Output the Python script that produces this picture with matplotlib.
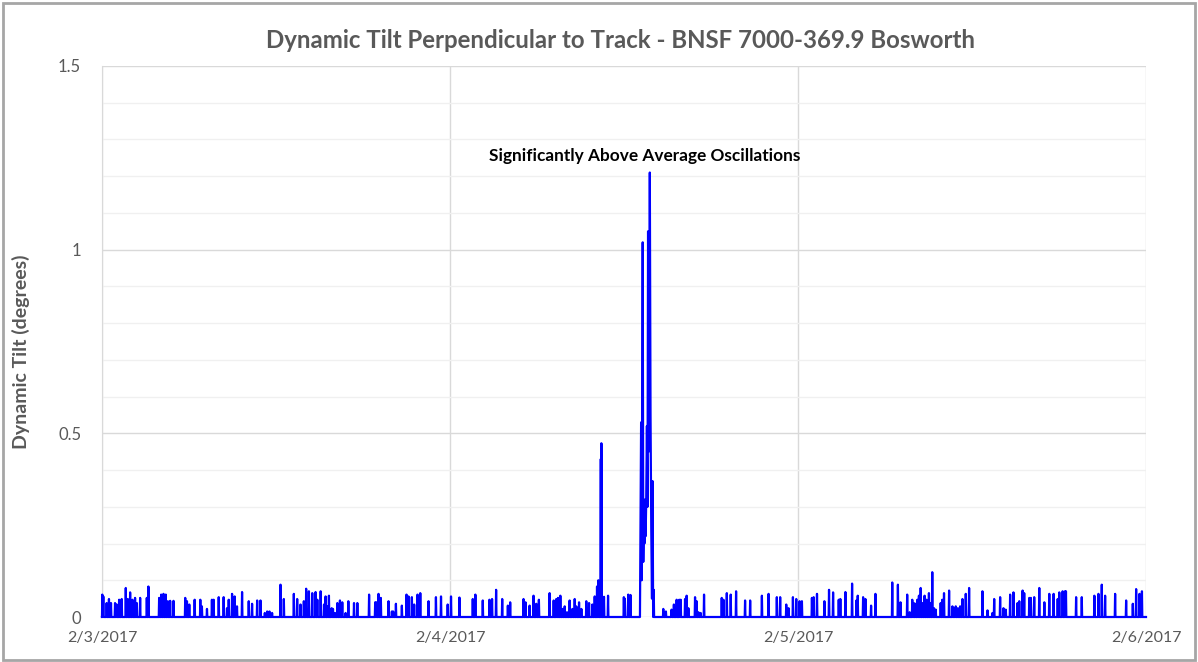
import numpy as np
import pandas as pd
import matplotlib
matplotlib.use('Agg')
import matplotlib.pyplot as plt
from matplotlib.patches import Rectangle

plt.rcParams['font.family'] = ['Lato', 'DejaVu Sans']

# spike times (hours after 2/3/2017 00:00) and peak tilt (degrees)
spike_hours = [
    0.02, 0.09, 0.32, 0.48, 0.62, 0.90, 1.01, 1.18, 1.36, 1.64, 1.78, 1.94, 2.10, 2.28, 2.40, 2.63,
    3.09, 3.20, 3.94, 4.08, 4.24, 4.40, 4.54, 4.70, 4.93, 5.74, 5.86, 6.02, 6.39, 6.78, 6.89, 7.24,
    7.58, 7.70, 8.05, 8.39, 8.62, 8.74, 8.97, 9.15, 9.31, 9.66, 10.12, 10.35, 10.70, 10.93, 11.23,
    11.39, 11.55, 11.73, 12.31, 12.54, 13.23, 13.46, 13.69, 13.92, 14.08, 14.27, 14.50, 14.73, 14.85,
    15.08, 15.31, 15.42, 15.54, 15.65, 15.84, 15.93, 16.07, 16.23, 16.41, 16.57, 16.80, 16.99, 17.38,
    17.61, 18.42, 18.84, 18.93, 19.07, 19.23, 19.76, 19.99, 20.08, 20.27, 20.68, 21.00, 21.14, 21.37,
    21.53, 21.76, 21.95, 22.52, 23.03, 23.38, 23.84, 24.07, 24.65, 25.57, 25.75, 26.26, 26.72, 26.90,
    27.18, 27.60, 27.99, 28.15, 29.07, 29.21, 29.49, 29.76, 29.95, 30.13, 30.87, 31.15, 31.33, 31.45,
    31.61, 31.75, 31.91, 32.07, 32.25, 32.44, 32.60, 32.71, 32.90, 33.06, 33.40, 33.59, 33.82, 33.98,
    34.14, 34.23, 34.40, 34.44, 34.62, 34.90, 35.99, 36.06, 36.29, 36.45,
    38.05, 38.71, 38.89, 39.28, 39.44, 39.63, 39.81, 39.91, 40.21, 40.32, 40.44, 40.90, 41.01, 41.13,
    41.29, 41.52, 42.74, 42.86, 43.09, 43.36, 43.73, 44.35, 44.70, 45.51, 45.97, 46.54, 46.77, 47.19,
    47.35, 47.65, 47.88, 48.11, 48.27, 48.96, 49.08, 49.31, 49.82, 50.14, 50.42, 50.81, 50.92, 51.27,
    51.73, 52.03, 52.12, 52.49, 52.65, 53.04, 53.34, 54.50, 54.89, 55.07, 55.53, 55.70, 55.88, 55.99,
    56.11, 56.23, 56.34, 56.46, 56.58, 56.73, 56.87, 57.03, 57.14, 57.26, 57.38, 57.50, 57.84, 57.95,
    58.07, 58.42, 58.65, 58.76, 58.88, 59.03, 59.18, 59.34, 59.57, 59.80, 60.72, 61.07, 61.41, 61.53,
    61.94, 62.17, 62.33, 62.63, 62.86, 63.14, 63.26, 63.49, 63.60, 63.95, 64.06, 64.29, 64.64, 64.99,
    65.33, 65.63, 65.91, 66.02, 66.25, 66.41, 66.48, 67.18, 67.57, 68.44, 68.72, 68.95, 69.18, 69.87,
    70.63, 71.09, 71.32, 71.55, 71.72,
]
spike_peaks = [
    0.061, 0.056, 0.038, 0.049, 0.038, 0.038, 0.034, 0.047, 0.049, 0.079, 0.049, 0.067, 0.047, 0.052, 0.038, 0.052,
    0.052, 0.083, 0.052, 0.061, 0.063, 0.061, 0.043, 0.044, 0.044, 0.052, 0.043, 0.034, 0.047, 0.047, 0.029, 0.022,
    0.047, 0.047, 0.054, 0.054, 0.024, 0.047, 0.063, 0.056, 0.029, 0.068, 0.043, 0.036, 0.045, 0.045, 0.011,
    0.015, 0.015, 0.011, 0.088, 0.049, 0.063, 0.049, 0.034, 0.043, 0.077, 0.070, 0.065, 0.068, 0.047,
    0.070, 0.034, 0.056, 0.029, 0.058, 0.024, 0.022, 0.011, 0.038, 0.045, 0.040, 0.011, 0.043, 0.038,
    0.038, 0.061, 0.040, 0.040, 0.063, 0.052, 0.043, 0.015, 0.015, 0.036, 0.031, 0.061, 0.056, 0.054,
    0.034, 0.061, 0.065, 0.043, 0.054, 0.056, 0.034, 0.056, 0.053, 0.049, 0.061, 0.045, 0.047, 0.049,
    0.074, 0.049, 0.031, 0.040, 0.049, 0.040, 0.031, 0.058, 0.036, 0.047, 0.065, 0.045, 0.049, 0.052,
    0.058, 0.022, 0.029, 0.013, 0.045, 0.022, 0.049, 0.029, 0.040, 0.022, 0.043, 0.038, 0.034, 0.056,
    0.083, 0.100, 0.430, 0.473, 0.055, 0.058, 0.054, 0.050, 0.061, 0.060,
    0.074, 0.022, 0.015, 0.020, 0.034, 0.047, 0.047, 0.047, 0.049, 0.058, 0.024, 0.054, 0.043, 0.013,
    0.011, 0.061, 0.052, 0.047, 0.065, 0.061, 0.070, 0.045, 0.045, 0.058, 0.063, 0.054, 0.054, 0.034,
    0.024, 0.054, 0.049, 0.043, 0.043, 0.052, 0.054, 0.063, 0.043, 0.074, 0.067, 0.047, 0.049, 0.068,
    0.091, 0.045, 0.058, 0.054, 0.049, 0.031, 0.063, 0.094, 0.088, 0.040, 0.061, 0.013, 0.047, 0.038,
    0.036, 0.047, 0.058, 0.079, 0.038, 0.058, 0.047, 0.065, 0.038, 0.122, 0.024, 0.020, 0.038, 0.047,
    0.065, 0.072, 0.029, 0.024, 0.029, 0.024, 0.029, 0.049, 0.063, 0.079, 0.070, 0.018, 0.011, 0.049,
    0.054, 0.024, 0.020, 0.061, 0.067, 0.038, 0.043, 0.072, 0.065, 0.052, 0.052, 0.054, 0.079, 0.040,
    0.063, 0.063, 0.049, 0.067, 0.070, 0.070, 0.070, 0.054, 0.054, 0.058, 0.063, 0.088, 0.058, 0.063,
    0.045, 0.036, 0.076, 0.063, 0.070,
]

# the main oscillation burst, read sample by sample
burst_hours = [37.10, 37.18, 37.22, 37.29, 37.33, 37.37, 37.41, 37.45, 37.49, 37.53, 37.58,
               37.62, 37.66, 37.70, 37.74, 37.78, 37.83, 37.88, 37.93, 37.97, 38.01]
burst_peaks = [0.0, 0.53, 0.10, 1.02, 0.15, 0.28, 0.20, 0.32, 0.22, 0.31, 0.52,
               0.30, 1.05, 0.45, 0.60, 1.21, 0.55, 0.24, 0.05, 0.37, 0.0]

day_labels = ['2/3/2017', '2/4/2017', '2/5/2017', '2/6/2017']
y_ticks = [0, 0.5, 1, 1.5]

# build the sampled series: zero between spikes, one sample per spike peak
half_w = 0.025
t, v = [0.0], [0.0]
for h, p in zip(spike_hours, spike_peaks):
    if h > burst_hours[0] and t[-1] < burst_hours[0]:
        t += burst_hours
        v += burst_peaks
    t += [h - half_w, h, h + half_w]
    v += [0.0, p, 0.0]
t.append(72.0)
v.append(0.0)
series = pd.Series(v, index=t).sort_index()

fig = plt.figure(figsize=(11.98, 6.62), dpi=100)
ax = fig.add_axes([102 / 1198, 1 - 617 / 662, (1146 - 102) / 1198, (617 - 66) / 662])

grey = '#595959'
ax.set_xlim(0, 72)
ax.set_ylim(0, 1.5)
ax.set_yticks(y_ticks)
ax.set_yticklabels(['0', '0.5', '1', '1.5'])
ax.set_yticks(np.arange(0.1, 1.5, 0.1), minor=True)
ax.set_xticks([0, 24, 48, 72])
ax.set_xticklabels(day_labels)
ax.grid(True, which='major', axis='both', color='#d9d9d9', lw=1)
ax.grid(True, which='minor', axis='y', color='#f0f0f0', lw=1)
ax.tick_params(which='both', length=0, labelsize=11.5, colors=grey)
ax.tick_params(axis='x', pad=10)
ax.tick_params(axis='y', labelsize=12, pad=15)
for s in ax.spines.values():
    s.set_visible(False)
ax.spines['left'].set_visible(True)
ax.spines['left'].set_color('#d9d9d9')
ax.set_axisbelow(True)

ax.plot(series.index, series.values, color='#0000ff', lw=1.6, clip_on=False, zorder=3)

ax.set_ylabel('Dynamic Tilt (degrees)', fontsize=14, fontweight='bold', color=grey)
ax.yaxis.set_label_coords((30 - 102) / 1044, (617 - 352) / 551)
fig.suptitle('Dynamic Tilt Perpendicular to Track - BNSF 7000-369.9 Bosworth',
             x=620 / 1198, y=1 - 40 / 662, va='center',
             fontsize=17.3, fontweight='bold', color=grey)
ax.text(37.45, 1.254, 'Significantly Above Average Oscillations', ha='center', va='center',
        fontsize=12.4, fontweight='bold', color='black')

fig.patches.append(Rectangle((3 / 1198, 2 / 662), 1192 / 1198, 657 / 662, transform=fig.transFigure,
                             fill=False, edgecolor='#a6a6a6', lw=2))

fig.savefig('out.png', dpi=100)
